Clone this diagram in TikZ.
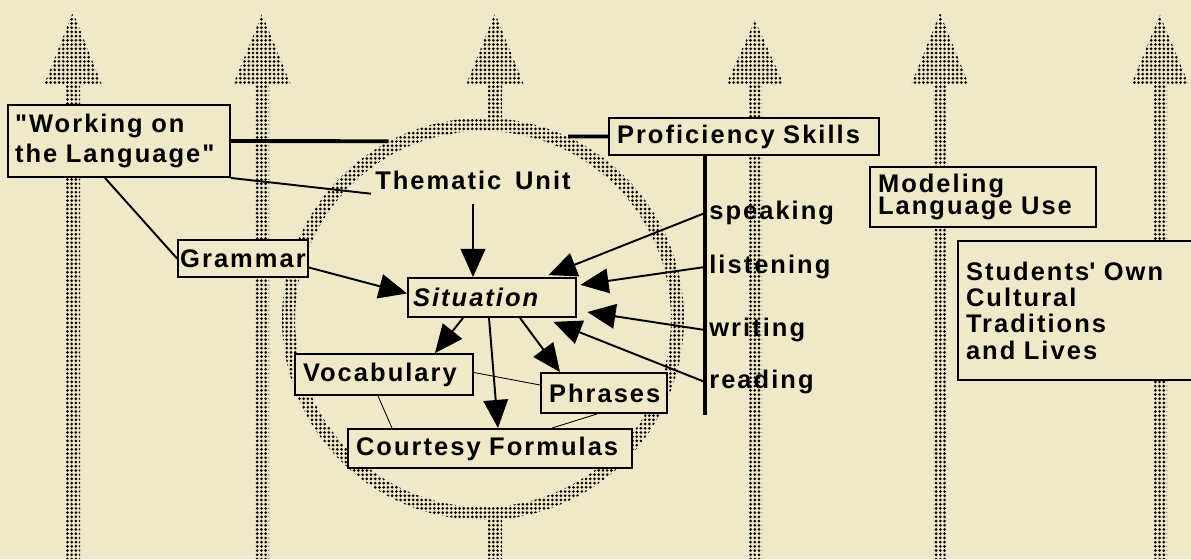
\documentclass[tikz,border=0pt]{standalone}
\usepackage{fontspec}
\usetikzlibrary{arrows.meta,calc,patterns.meta}
\newfontfamily\labfont{Liberation Sans}[LetterSpace=8, WordSpace=1.5]
\newcommand\labtxt{\labfont\bfseries\fontsize{14.5pt}{16pt}\selectfont}
\definecolor{paper}{RGB}{239,233,201}

\begin{document}
\begin{tikzpicture}[
  x=0.02cm, y=-0.02cm,
  dots/.style={pattern={Dots[distance=2.4pt, radius=0.85pt]}, pattern color=black},
  box/.style={draw, fill=paper, line width=1.1pt, inner xsep=0.16cm, inner ysep=0pt, align=left, font=\labtxt},
  lbl/.style={inner sep=0.08cm, font=\labtxt},
  arr/.style={-{Triangle[length=16pt, width=14pt]}, line width=1.1pt},
  link/.style={line width=1.1pt},
  bar/.style={line width=2.2pt},
  faint/.style={line width=0.5pt},
]
\useasboundingbox (0,0) rectangle (1191,559);
\clip (0,0) rectangle (1191,559);
\fill[paper] (0,0) rectangle (1191,559);

% ---------- dotted arrows going up ----------
\foreach \x/\t in {73/12, 262/14, 495/13, 755/20, 940/13, 1160/15}
  \fill[dots] (\x-7,559) -- (\x-7,85) -- (\x-29,85) -- (\x,\t) -- (\x+29,85) -- (\x+7,85) -- (\x+7,559) -- cycle;

% ---------- thematic unit ring ----------
\node[circle, draw=none, inner sep=0pt, minimum size=8.04cm] (ring) at (483,319) {};
\fill[paper] (ring.center) circle[radius=4.02cm];
\fill[dots, even odd rule] (ring.center) circle[radius=4.02cm] circle[radius=3.76cm];

% ---------- boxes ----------
\node[box, text width=4.16cm, inner xsep=0.14cm, minimum height=1.44cm] (work) at (119,141) {"Working on\\[1pt]the Language"};
\node[box, text width=5.08cm, minimum height=0.74cm] (prof) at (744,136.5) {Proficiency Skills};
\node[box, inner xsep=1pt, minimum width=2.6cm, minimum height=0.74cm] (gram) at (243,258.5) {Grammar};
\node[box, text width=3.16cm, inner xsep=0.1cm, minimum height=0.78cm] (sit) at (492,297.5) {\itshape Situation};
\node[box, text width=3.24cm, minimum height=0.82cm] (vocab) at (384,374.5) {Vocabulary};
\node[box, text width=2.2cm, minimum height=0.80cm] (phr) at (604,393) {Phrases};
\node[box, text width=5.36cm, minimum height=0.78cm] (court) at (490,448.5) {Courtesy Formulas};
\node[box, text width=4.2cm, minimum height=1.2cm] (model) at (983,197) {Modeling\\[-3pt]Language Use};
\node[box, text width=4.52cm, minimum height=2.78cm] (stud) at (1079,310.5) {Students\textquotesingle{} Own\\[-1pt]Cultural\\[-1pt]Traditions\\[-1pt]and Lives};

% ---------- plain labels ----------
\node[lbl] (theme) at (473,180) {Thematic Unit};
\node[lbl, anchor=west] (speak) at (705,213) {speaking};
\node[lbl, anchor=west] (listen) at (705,267) {listening};
\node[lbl, anchor=west] (write) at (705,330) {writing};
\node[lbl, anchor=west] (read) at (705,382) {reading};
\coordinate (barend) at (705,415);

% ---------- connectors ----------
\draw[bar] (work.east) -- (ring.118);
\draw[bar] (prof.west) -- (ring.65);
\draw[bar] (prof.south -| barend) -- (barend);
\draw[link] (work.south east) -- (theme.south west);
\draw[link] ($(work.south)+(-14,0)$) -- (gram.west);
\draw[arr] ($(gram.east)+(0,9)$) -- ($(sit.west)+(0,-4)$);
\draw[arr, shorten <=6pt] (theme.south) -- (theme.south |- sit.north);
\draw[arr, shorten >=3pt] (speak.west) -- (sit);
\draw[arr, shorten >=2pt] (listen.west) -- (sit);
\draw[arr, shorten >=6pt] (write.west) -- (sit);
\draw[arr, shorten >=6pt] (read.west) -- (sit);
\draw[arr] ($(sit.south)+(-29,0)$) -- ($(vocab.north)+(51,0)$);
\draw[arr] ($(sit.south)+(-3,0)$) -- ($(court.north)+(8,0)$);
\draw[arr] ($(sit.south)+(28,0)$) -- ($(phr.north)+(-44,0)$);
\draw[faint] ($(vocab.east)+(0,-2)$) -- ($(phr.west)+(0,-8)$);
\draw[faint] ($(vocab.south)+(-6,0)$) -- ($(court.north)+(-98,0)$);
\draw[faint] ($(phr.south)+(-7,0)$) -- ($(court.north)+(62,0)$);
\end{tikzpicture}
\end{document}
